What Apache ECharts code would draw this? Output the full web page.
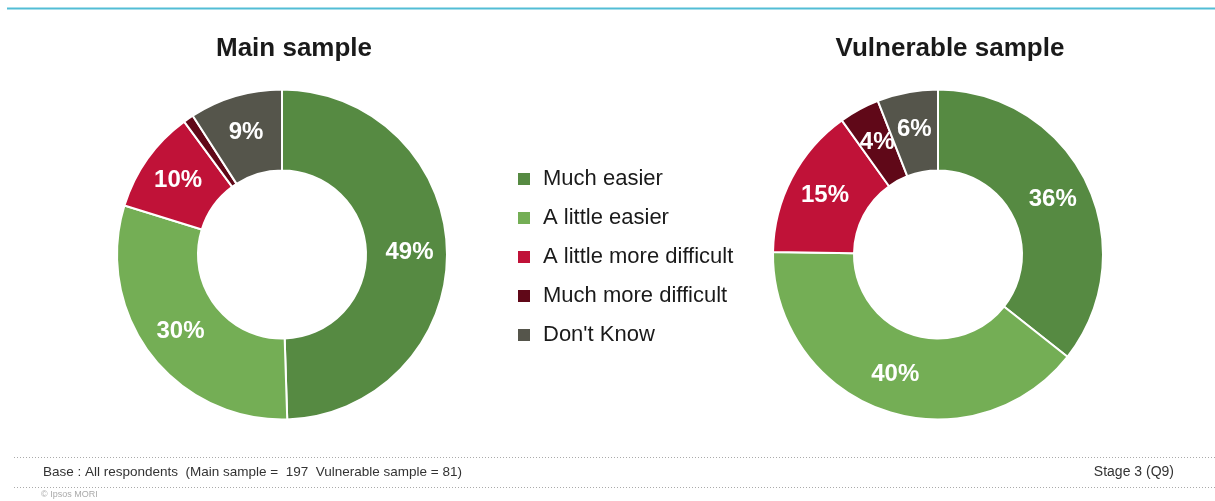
<!DOCTYPE html>
<html><head><meta charset="utf-8">
<script src="https://cdn.jsdelivr.net/npm/echarts@6/dist/echarts.min.js"></script>
<style>html,body{margin:0;padding:0;background:#fff}#c{width:1215px;height:501px}</style>
</head><body><div id="c"></div>
<script>
const categories = ['Much easier','A little easier','A little more difficult','Much more difficult',"Don't Know"];
const colors = ['#568A42','#74AE55','#C01238','#600818','#55554B'];
const mainValues = [49,30,10,1,9];
const vulnValues = [36,40,15,4,6];
const titles = ['Main sample','Vulnerable sample'];
const baseText = 'Base : All respondents  (Main sample =  197  Vulnerable sample = 81)';
const stageText = 'Stage 3 (Q9)';
const copyText = '\u00A9 Ipsos MORI';

const FONT = 'Liberation Sans, Arial, sans-serif';
function makeData(vals){
  return vals.map((v,i)=>({name:categories[i], value:v, itemStyle:{color:colors[i]},
    label:{show: v>=3}}));
}
function pie(center, vals){
  return {type:'pie', center:center, radius:[84,165], startAngle:90, clockwise:true,
    avoidLabelOverlap:false, silent:true, animation:false,
    itemStyle:{borderColor:'#fff', borderWidth:2},
    label:{position:'inside', formatter:'{c}%', color:'#fff', fontSize:24, fontWeight:'bold', fontFamily:FONT},
    labelLine:{show:false},
    data:makeData(vals)};
}
const chart = echarts.init(document.getElementById('c'));
chart.setOption({
  animation:false,
  title:[
    {text:titles[0], left:289, top:31, textAlign:'center', textStyle:{fontSize:26, fontWeight:'bold', color:'#1a1a1a', fontFamily:FONT}},
    {text:titles[1], left:945, top:31, textAlign:'center', textStyle:{fontSize:26, fontWeight:'bold', color:'#1a1a1a', fontFamily:FONT}}
  ],
  legend:{orient:'vertical', left:511, top:163, itemWidth:14, itemHeight:14, itemGap:17, icon:'rect',
    selectedMode:false, data:categories,
    textStyle:{fontSize:22, lineHeight:22, color:'#1a1a1a', fontFamily:FONT, padding:[0,0,0,7]}},
  series:[pie([282,254.5], mainValues), pie([938,254.5], vulnValues)],
  graphic:[
    {type:'rect', shape:{x:7, y:7.5, width:1208, height:2}, style:{fill:'#52BDD5'}},
    {type:'line', shape:{x1:14, y1:457.5, x2:1215, y2:457.5}, style:{stroke:'#aaa', lineWidth:1, lineDash:[1,2]}},
    {type:'line', shape:{x1:14, y1:487.5, x2:1215, y2:487.5}, style:{stroke:'#aaa', lineWidth:1, lineDash:[1,2]}},
    {type:'text', left:43, top:465, style:{text:baseText, font:'13.5px '+FONT, fill:'#333'}},
    {type:'text', right:41, top:465, style:{text:stageText, font:'14px '+FONT, fill:'#333'}},
    {type:'text', left:41, top:490, style:{text:copyText, font:'9px '+FONT, fill:'#aaa'}}
  ]
});
</script></body></html>
